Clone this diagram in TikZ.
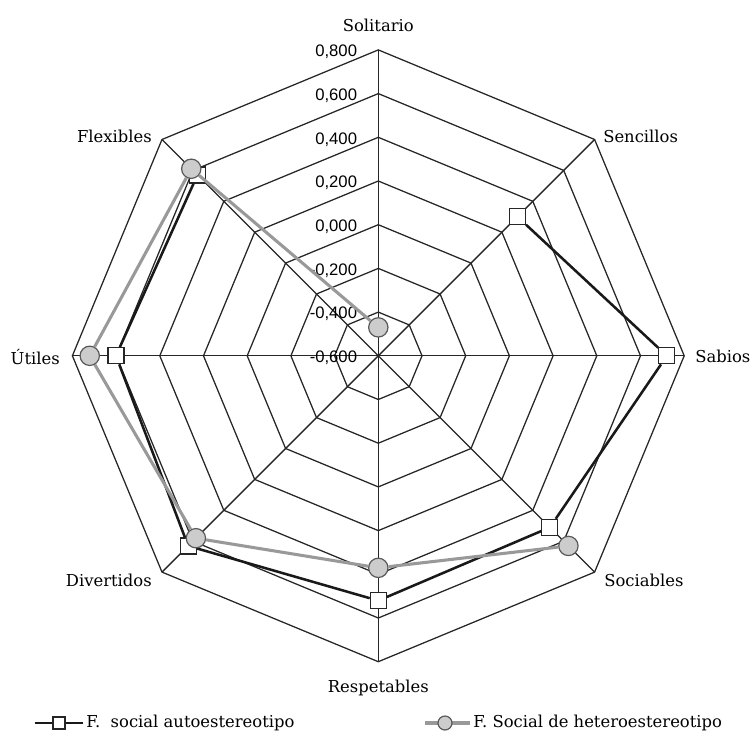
\documentclass[tikz,border=0pt]{standalone}
\usepackage{fontspec}
\setmainfont{DejaVu Serif}
\newfontfamily\numfont{Liberation Sans}

\begin{document}
\begin{tikzpicture}[x=0.75pt,y=0.75pt,
		web/.style={black!85,line width=0.95pt},
		autoline/.style={black!90,line width=1.9pt},
		heteroline/.style={black!40,line width=2.3pt},
		sq/.style={draw=black!85,fill=white,line width=0.9pt,minimum size=12pt,inner sep=0pt},
		dot/.style={circle,draw=black!65,fill=black!20,line width=0.9pt,minimum size=14.5pt,inner sep=0pt},
		cat/.style={font=\fontsize{12.3}{14}\selectfont,inner sep=0pt},
		num/.style={font=\numfont\fontsize{12.5}{14}\selectfont,anchor=east,inner sep=0pt}]
		\useasboundingbox (-378.3,-380.2) rectangle (373.7,355.8);

		%web
		\foreach \r in {1,...,7}
			\draw[web] (90:{\r*43.7}) -- (135:{\r*43.7}) -- (180:{\r*43.7}) -- (225:{\r*43.7}) -- (270:{\r*43.7}) -- (315:{\r*43.7}) -- (0:{\r*43.7}) -- (45:{\r*43.7}) -- cycle;
		\foreach \a in {0,45,...,315}
			\draw[web] (0,0) -- (\a:305.9);

		%scale
		\foreach \i/\t in {0/{-0,600},1/{-0,400},2/{-0,200},3/{0,000},4/{0,200},5/{0,400},6/{0,600},7/{0,800}}
			\node[num] (v\i) at (-21,\i*43.7-2) {\t};

		%categories
		\node[cat] (sol) at (0,330.8) {Solitario};
		\node[cat,anchor=west] (sen) at (224.7,219.8) {Sencillos};
		\node[cat,anchor=west] (sab) at (316.7,-1) {Sabios};
		\node[cat,anchor=west] (soc) at (225.7,-224.2) {Sociables};
		\node[cat] (res) at (0,-332.2) {Respetables};
		\node[cat,anchor=east] (div) at (-226.3,-224.2) {Divertidos};
		\node[cat,anchor=east] (uti) at (-318.3,-1) {Útiles};
		\node[cat,anchor=east] (fle) at (-226.3,219.8) {Flexibles};

		%autoestereotipo
		\foreach \a/\v/\n in {45/0.30/sen,0/0.72/sab,-45/0.51/soc,-90/0.52/res,-135/0.63/div,180/0.60/uti,135/0.57/fle}
			\node[sq] (a\n) at (\a:{(\v+0.6)*218.6}) {};
		\draw[autoline] (asen) -- (asab) -- (asoc) -- (ares) -- (adiv) -- (auti) -- (afle);

		%heteroestereotipo
		\foreach \a/\v/\n in {90/-0.47/sol,-45/0.63/soc,-90/0.37/res,-135/0.58/div,180/0.72/uti,135/0.61/fle}
			\node[dot] (h\n) at (\a:{(\v+0.6)*218.6}) {};
		\draw[heteroline] (hsoc) -- (hres) -- (hdiv) -- (huti) -- (hfle) -- (hsol);

		%legend
		\coordinate (la1) at (-343.3,-367.2);
		\coordinate (la2) at (-295.3,-367.2);
		\draw[autoline] (la1) -- (la2);
		\node[sq,minimum size=9pt] (lsq) at (-319.3,-367.2) {};
		\node[cat,anchor=west] (lta) at (-292.3,-367.2) {F.\ \ social autoestereotipo};

		\coordinate (lh1) at (46.7,-367.2);
		\coordinate (lh2) at (91.7,-367.2);
		\draw[heteroline] (lh1) -- (lh2);
		\node[dot,minimum size=10.5pt] (ldot) at (66.7,-367.2) {};
		\node[cat,anchor=west] (lth) at (94.7,-367.2) {F. Social de heteroestereotipo};

	\end{tikzpicture}
\end{document}
